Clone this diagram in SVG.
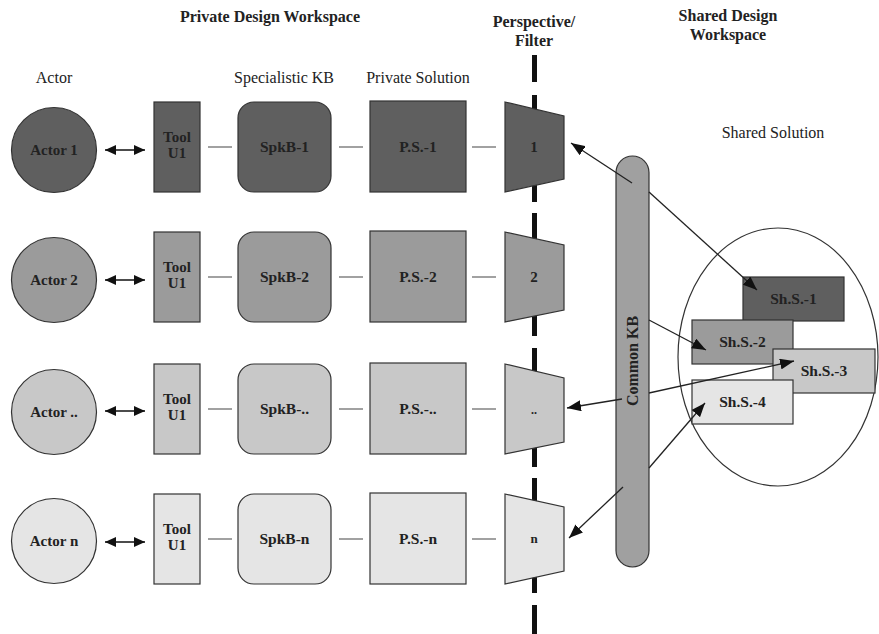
<svg xmlns="http://www.w3.org/2000/svg" width="879" height="634" viewBox="0 0 879 634">
<style>
text{font-family:"Liberation Serif","Times New Roman",serif;fill:#222;text-anchor:middle}
.b{font-weight:bold}
.h{font-size:16px}
.a{font-size:15px;font-weight:bold}
.n{font-size:15.5px;font-weight:bold}
.s{stroke:#333;stroke-width:1.2}
.f1{fill:#5f5f5f}.f2{fill:#9b9b9b}.f3{fill:#c8c8c8}.f4{fill:#e5e5e5}
.c{stroke:#444;stroke-width:1.2;fill:none}
.arr{stroke:#222;stroke-width:1.3;fill:none;marker-end:url(#ah)}
.dbl{stroke:#111;stroke-width:1.6;fill:none;marker-start:url(#ds);marker-end:url(#de)}
</style>
<defs>
<marker id="ah" markerUnits="userSpaceOnUse" markerWidth="14" markerHeight="11" refX="14" refY="5.5" orient="auto"><path d="M0,0 L14,5.5 L0,11 z" fill="#111"/></marker>
<marker id="de" markerUnits="userSpaceOnUse" markerWidth="11" markerHeight="10" refX="11" refY="5" orient="auto"><path d="M0,0 L11,5 L0,10 z" fill="#111"/></marker>
<marker id="ds" markerUnits="userSpaceOnUse" markerWidth="11" markerHeight="10" refX="11" refY="5" orient="auto-start-reverse"><path d="M0,0 L11,5 L0,10 z" fill="#111"/></marker>
</defs>

<!-- headers -->
<g id="headers">
<text class="h b" x="270" y="22">Private Design Workspace</text>
<text class="h b" x="534" y="27">Perspective/</text>
<text class="h b" x="534" y="46">Filter</text>
<text class="h b" x="728" y="21">Shared Design</text>
<text class="h b" x="728" y="40">Workspace</text>
<text class="h" x="54" y="83">Actor</text>
<text class="h" x="284" y="83">Specialistic KB</text>
<text class="h" x="418" y="83">Private Solution</text>
<text class="h" x="773" y="138">Shared Solution</text>
</g>

<!-- perspective/filter dashed divider -->
<g id="divider">
<path d="M534.5,55 V82 M534.5,95 V202 M534.5,213 V336 M534.5,348 V467 M534.5,478 V593 M534.5,605 V634" stroke="#111" stroke-width="5" fill="none"/>
</g>

<!-- Row 1 -->
<g id="actor1"><circle class="s f1" cx="54" cy="150" r="42.5"/><text class="a" x="54" y="155">Actor 1</text></g>
<g id="tool1"><rect class="s f1" x="154" y="102" width="46" height="90"/><text class="a" x="177" y="142">Tool</text><text class="a" x="177" y="158">U1</text></g>
<g id="spkb1"><rect class="s f1" x="238" y="102" width="93" height="90" rx="16"/><text class="n" x="284.5" y="152">SpkB-1</text></g>
<g id="ps1"><rect class="s f1" x="370" y="101" width="96" height="91"/><text class="n" x="418" y="152">P.S.-1</text></g>
<g id="filter1"><polygon class="s f1" points="505,102 564,116 564,179 505,192"/><text class="a" x="534" y="152">1</text></g>

<!-- Row 2 -->
<g id="actor2"><circle class="s f2" cx="54" cy="280" r="42.5"/><text class="a" x="54" y="285">Actor 2</text></g>
<g id="tool2"><rect class="s f2" x="154" y="232" width="46" height="90"/><text class="a" x="177" y="272">Tool</text><text class="a" x="177" y="288">U1</text></g>
<g id="spkb2"><rect class="s f2" x="238" y="232" width="93" height="90" rx="16"/><text class="n" x="284.5" y="282">SpkB-2</text></g>
<g id="ps2"><rect class="s f2" x="370" y="231" width="96" height="91"/><text class="n" x="418" y="282">P.S.-2</text></g>
<g id="filter2"><polygon class="s f2" points="505,232 564,245 564,310 505,322"/><text class="a" x="534" y="282">2</text></g>

<!-- Row 3 -->
<g id="actor3"><circle class="s f3" cx="54" cy="412" r="42.5"/><text class="a" x="54" y="417">Actor ..</text></g>
<g id="tool3"><rect class="s f3" x="154" y="364" width="46" height="90"/><text class="a" x="177" y="404">Tool</text><text class="a" x="177" y="420">U1</text></g>
<g id="spkb3"><rect class="s f3" x="238" y="364" width="93" height="90" rx="16"/><text class="n" x="284.5" y="414">SpkB-..</text></g>
<g id="ps3"><rect class="s f3" x="370" y="363" width="96" height="91"/><text class="n" x="418" y="414">P.S.-..</text></g>
<g id="filter3"><polygon class="s f3" points="505,364 564,378 564,442 505,454"/><text class="a" x="534" y="414" style="font-size:12px">..</text></g>

<!-- Row 4 -->
<g id="actor4"><circle class="s f4" cx="54" cy="541" r="42.5"/><text class="a" x="54" y="546">Actor n</text></g>
<g id="tool4"><rect class="s f4" x="154" y="494" width="46" height="90"/><text class="a" x="177" y="534">Tool</text><text class="a" x="177" y="550">U1</text></g>
<g id="spkb4"><rect class="s f4" x="238" y="494" width="93" height="90" rx="16"/><text class="n" x="284.5" y="544">SpkB-n</text></g>
<g id="ps4"><rect class="s f4" x="370" y="493" width="96" height="91"/><text class="n" x="418" y="544">P.S.-n</text></g>
<g id="filter4"><polygon class="s f4" points="505,494 564,507 564,571 505,584"/><text class="a" x="534" y="543" style="font-size:13px">n</text></g>

<!-- Shared solution -->
<g id="sharedSolution"><ellipse cx="778" cy="357" rx="100" ry="129" fill="none" stroke="#333" stroke-width="1.2"/></g>
<g id="shs1"><rect class="s f1" x="743" y="277" width="101" height="44"/><text class="n" x="793.5" y="304">Sh.S.-1</text></g>
<g id="shs2"><rect class="s f2" x="692" y="320" width="101" height="44"/><text class="n" x="742.5" y="347">Sh.S.-2</text></g>
<g id="shs3"><rect class="s f3" x="773" y="349" width="102" height="44"/><text class="n" x="824" y="376">Sh.S.-3</text></g>
<g id="shs4"><rect class="s f4" x="692" y="380" width="101" height="44"/><text class="n" x="742.5" y="407">Sh.S.-4</text></g>

<!-- Common KB -->
<g id="commonKB"><rect x="616" y="156" width="33" height="411" rx="16.5" fill="#a0a0a0" stroke="#333" stroke-width="1.2"/><text class="b" style="font-size:16px" transform="translate(638,361) rotate(-90)">Common KB</text></g>

<!-- connectors -->
<g id="connectors">
<path class="dbl" d="M105,150 H145"/>
<path class="dbl" d="M105,280 H145"/>
<path class="dbl" d="M105,411 H145"/>
<path class="dbl" d="M105,542 H145"/>
<path class="c" d="M208,147 H232 M339,147 H363 M472,147 H496"/>
<path class="c" d="M208,277 H232 M339,277 H363 M472,277 H496"/>
<path class="c" d="M208,409 H232 M339,409 H363 M472,409 H496"/>
<path class="c" d="M208,539 H232 M339,539 H363 M472,539 H496"/>
<path class="arr" d="M632,183 L571,143"/>
<path class="arr" d="M649,192 L757,290"/>
<path class="arr" d="M649,320 L706,350"/>
<path class="arr" d="M622,399 L567,408"/>
<path class="arr" d="M649,393 L794,361"/>
<path class="arr" d="M649,468 L705,403"/>
<path class="arr" d="M623,487 L569,538"/>
</g>
</svg>
